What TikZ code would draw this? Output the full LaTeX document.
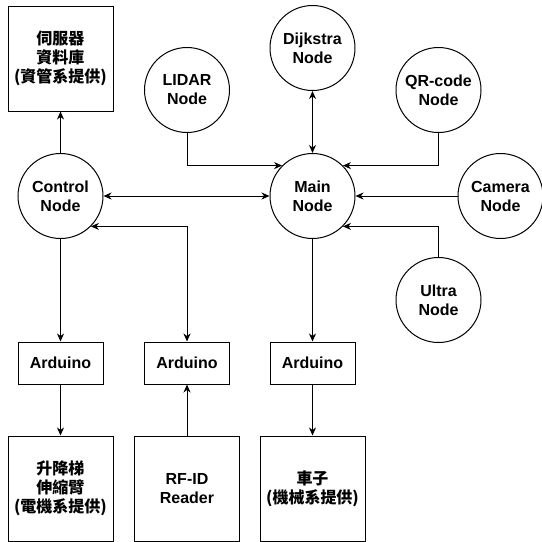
\documentclass[tikz,border=0pt]{standalone}
\usepackage{fontspec}
\setmainfont{Liberation Sans}
\newfontfamily\cjk{Noto Sans CJK TC}
\usetikzlibrary{arrows.meta}
\newcommand{\rosnode}[3]{%
 \node[rosnode] ({#1}) at ({#2}) {#3};%
}
\newcommand{\hwbox}[3]{%
 \node[hwbox] ({#1}) at ({#2}) {#3};%
}
\newcommand{\board}[2]{%
 \node[board] ({#1}) at ({#2}) {Arduino};%
}

\begin{document}
\begin{tikzpicture}[x=1pt,y=-1pt,
  every node/.style={font=\fontsize{16}{19}\selectfont\bfseries, align=center, line width=1pt},
  rosnode/.style={draw, circle, minimum size=85pt, inner sep=0pt},
  hwbox/.style={draw, minimum width=105pt, minimum height=105pt, inner sep=0pt},
  cjkbox/.style={hwbox, font=\cjk\fontsize{16}{19}\selectfont\bfseries},
  board/.style={draw, minimum width=85pt, minimum height=42pt, inner sep=0pt},
  link/.style={line width=1pt, -{Stealth[length=8pt,width=7pt,inset=2.5pt]}},
  dlink/.style={line width=1pt, {Stealth[length=8pt,width=7pt,inset=2.5pt]}-{Stealth[length=8pt,width=7pt,inset=2.5pt]}}]
  \useasboundingbox (0,0) rectangle (542,542);
  % top row
  \node[cjkbox] (server) at (60.5,58.5) {伺服器\\資料庫\\(資管系提供)};
  \rosnode{dijk}{312.5,48}{Dijkstra\\Node};
  \rosnode{lidar}{187,90}{LIDAR\\Node};
  \rosnode{qr}{438.5,90}{QR-code\\Node};
  % middle
  \rosnode{ctrl}{60.5,196}{Control\\Node};
  \rosnode{main}{312.5,196}{Main\\Node};
  \rosnode{cam}{500.5,196}{Camera\\Node};
  \rosnode{ultra}{438.5,300}{Ultra\\Node};
  % boards
  \board{ard1}{60.5,363};
  \board{ard2}{187,363};
  \board{ard3}{312.5,363};
  % bottom row
  \node[cjkbox] (lift) at (60.5,488.5) {升降梯\\伸縮臂\\(電機系提供)};
  \hwbox{rfid}{187,488.5}{RF-ID\\Reader};
  \node[cjkbox] (car) at (312.5,488.5) {車子\\(機械系提供)};
  % connections
  \draw[link] (ctrl) -- (server);
  \draw[dlink] (ctrl) -- (main);
  \draw[dlink] (dijk) -- (main);
  \draw[link] (lidar) |- (main.135);
  \draw[link] (qr) |- (main.45);
  \draw[link] (cam) -- (main);
  \draw[link] (ultra) |- (main.-45);
  \draw[link] (ctrl) -- (ard1);
  \draw[dlink] (ctrl.-45) -| (ard2);
  \draw[link] (main) -- (ard3);
  \draw[link] (ard1) -- (lift);
  \draw[link] (rfid) -- (ard2);
  \draw[link] (ard3) -- (car);
\end{tikzpicture}
\end{document}
